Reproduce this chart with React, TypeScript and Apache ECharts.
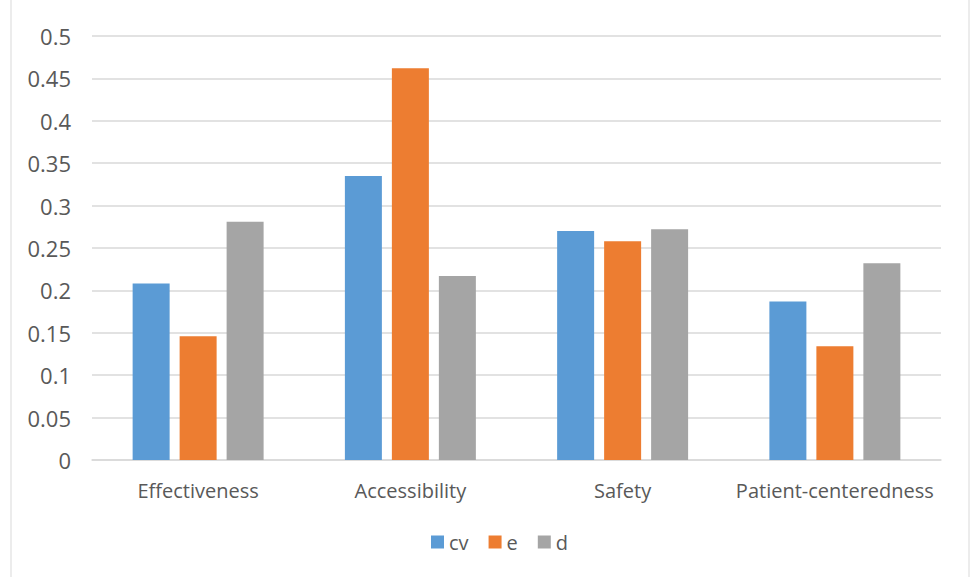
import React, { useEffect, useRef } from "react";
import * as echarts from "echarts";

const categories = ["Effectiveness", "Accessibility", "Safety", "Patient-centeredness"];
const seriesNames = ["cv", "e", "d"];
const cvValues = [0.208, 0.335, 0.27, 0.187];
const eValues = [0.146, 0.462, 0.258, 0.134];
const dValues = [0.281, 0.217, 0.272, 0.232];
const colors = ["#5B9BD5", "#ED7D31", "#A5A5A5"];

export default function App() {
  const ref = useRef<HTMLDivElement>(null);
  useEffect(() => {
    if (!ref.current) return;
    const chart = echarts.init(ref.current, null, { renderer: "svg" });
    const font = "Open Sans";
    const values = [cvValues, eValues, dValues];
    chart.setOption({
      animation: false,
      backgroundColor: "#ffffff",
      graphic: [
        {
          type: "rect",
          shape: { x: 11, y: -4, width: 958, height: 600 },
          style: { fill: "none", stroke: "#d9d9d9", lineWidth: 1 },
          silent: true,
        },
      ],
      grid: { left: 92, right: 29, top: 36, bottom: 117, containLabel: false },
      legend: {
        bottom: 20,
        left: 426,
        itemWidth: 13,
        itemHeight: 13,
        itemGap: 20,
        icon: "rect",
        textStyle: { color: "#595959", fontSize: 20, fontFamily: font },
        data: seriesNames,
      },
      xAxis: {
        type: "category",
        data: categories,
        axisLine: { show: true, lineStyle: { color: "#d9d9d9", width: 1.5 } },
        axisTick: { show: false },
        axisLabel: { color: "#595959", fontSize: 20, fontFamily: font, margin: 20, interval: 0 },
      },
      yAxis: {
        type: "value",
        min: 0,
        max: 0.5,
        interval: 0.05,
        axisLine: { show: false },
        axisTick: { show: false },
        splitLine: { lineStyle: { color: "#d9d9d9", width: 1.5 } },
        axisLabel: {
          color: "#595959",
          fontSize: 22,
          fontFamily: font,
          margin: 21,
          formatter: (v: number) => String(parseFloat(v.toFixed(2))),
        },
      },
      series: seriesNames.map((name, i) => ({
        name,
        type: "bar",
        data: values[i],
        barWidth: 37,
        barGap: "27%",
        itemStyle: { color: colors[i] },
      })),
    });
    return () => chart.dispose();
  }, []);
  return (
    <div
      ref={ref}
      style={{ position: "fixed", left: 0, top: 0, width: 970, height: 577 }}
    />
  );
}
